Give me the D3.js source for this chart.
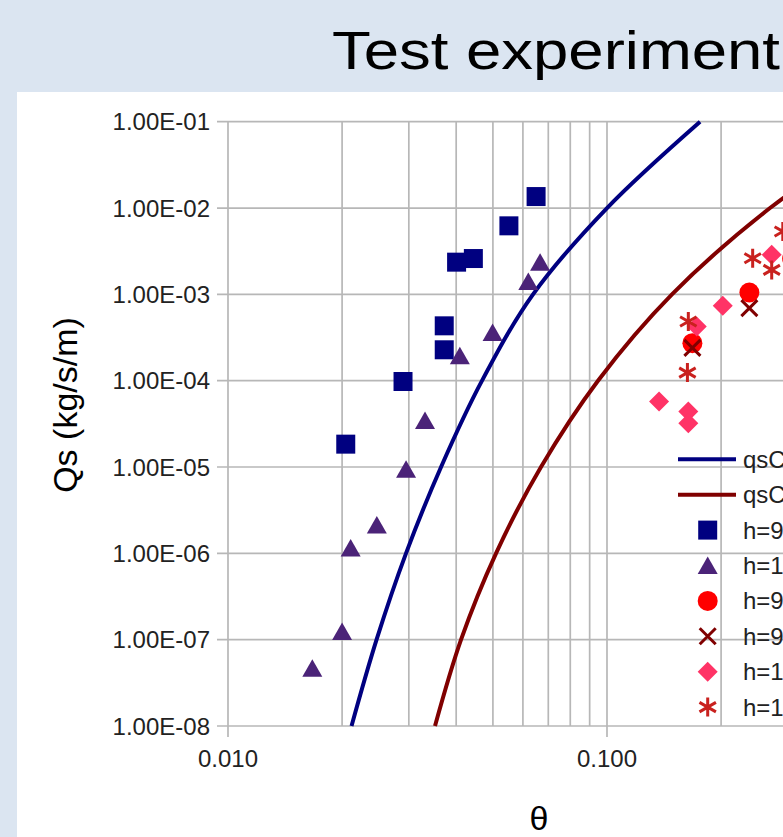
<!DOCTYPE html>
<html>
<head>
<meta charset="utf-8">
<script src="https://cdn.jsdelivr.net/npm/d3@7"></script>
<style>
  html, body { margin: 0; padding: 0; background: #dbe5f1; overflow: hidden; }
  svg { display: block; font-family: "Liberation Sans", Arial, sans-serif; }
</style>
</head>
<body>
<svg id="chart" width="783" height="837"></svg>
<script>
// theta values / sediment flux Qs (kg/s/m)
const curveBlue = [
  [0.02118, 1e-8], [0.02466, 1e-7], [0.02949, 1e-6], [0.03649, 1e-5],
  [0.0468, 1e-4], [0.0638, 1e-3], [0.1, 1e-2], [0.176, 1e-1]
];
const curveRed = [
  [0.03517, 1e-8], [0.0412, 1e-7], [0.05096, 1e-6], [0.06696, 1e-5],
  [0.09468, 1e-4], [0.1484, 1e-3], [0.2692, 1e-2], [0.5754, 1e-1]
];
const squares = [
  [0.065, 0.01358], [0.0551, 0.00622], [0.0444, 0.0026], [0.0401, 0.00236],
  [0.0372, 4.32e-4], [0.0372, 2.28e-4], [0.02896, 9.78e-5], [0.02045, 1.84e-5]
];
const triangles = [
  [0.0666, 2.36e-3], [0.062, 1.41e-3], [0.0499, 3.61e-4], [0.0409, 1.94e-4],
  [0.0331, 3.45e-5], [0.0295, 9.4e-6], [0.0247, 2.13e-6], [0.02107, 1.15e-6],
  [0.02, 1.24e-7], [0.01669, 4.66e-8]
];
const circles = [[0.2375, 1.05e-3], [0.168, 2.72e-4], [0.308, 2.6e-3]];
const crosses = [[0.2375, 6.92e-4], [0.168, 2.4e-4]];
const diamonds = [
  [0.202, 7.36e-4], [0.1725, 4.24e-4], [0.1372, 5.73e-5], [0.1639, 4.39e-5],
  [0.1639, 3.22e-5], [0.272, 2.87e-3]
];
const stars = [
  [0.1639, 4.84e-4], [0.163, 1.24e-4], [0.2423, 2.62e-3], [0.272, 1.92e-3], [0.291, 5.35e-3]
];

const yTickValues = [1e-8, 1e-7, 1e-6, 1e-5, 1e-4, 1e-3, 1e-2, 1e-1];
const yTickLabels = ["1.00E-08", "1.00E-07", "1.00E-06", "1.00E-05", "1.00E-04", "1.00E-03", "1.00E-02", "1.00E-01"];
const xTickValues = [0.01, 0.1, 1];
const xTickLabels = ["0.010", "0.100", "1.000"];
const legendLabels = ["qsCalc 1", "qsCalc 2", "h=9 cm", "h=12 cm", "h=9 cm", "h=9 cm", "h=12 cm", "h=12 cm"];

const svg = d3.select("#chart");
const grid = "#b7b7b7";

// white plot panel
svg.append("rect").attr("x", 17).attr("y", 92).attr("width", 783 - 17).attr("height", 837 - 92).attr("fill", "#fff");

// title (cut by right edge in the source)
svg.append("text")
  .attr("x", 332).attr("y", 69)
  .attr("font-size", 54)
  .attr("textLength", 448).attr("lengthAdjust", "spacingAndGlyphs")
  .text("Test experiment");

const x = d3.scaleLog().domain([0.01, 1]).range([228, 986]);
const y = d3.scaleLog().domain([1e-8, 1e-1]).range([726, 121.7]);

// grid
const g = svg.append("g");
g.selectAll("line.xg").data(x.ticks()).enter().append("line")
  .attr("x1", d => x(d)).attr("x2", d => x(d))
  .attr("y1", y(1e-1)).attr("y2", y(1e-8))
  .attr("stroke", grid).attr("stroke-width", 1.7);
g.selectAll("line.yg").data(yTickValues).enter().append("line")
  .attr("x1", 217).attr("x2", x(1))
  .attr("y1", d => y(d)).attr("y2", d => y(d))
  .attr("stroke", grid).attr("stroke-width", 1.7);
g.selectAll("line.xt").data(xTickValues).enter().append("line")
  .attr("x1", d => x(d)).attr("x2", d => x(d))
  .attr("y1", 726).attr("y2", 737)
  .attr("stroke", grid).attr("stroke-width", 1.7);

// tick labels
svg.selectAll("text.yl").data(yTickValues).enter().append("text")
  .attr("x", 210).attr("y", d => y(d) + 8.5)
  .attr("text-anchor", "end").attr("font-size", 24).attr("fill", "#222")
  .text((d, i) => yTickLabels[i]);
svg.selectAll("text.xl").data(xTickValues).enter().append("text")
  .attr("x", d => x(d)).attr("y", 767)
  .attr("text-anchor", "middle").attr("font-size", 24).attr("fill", "#222")
  .text((d, i) => xTickLabels[i]);

// axis titles
svg.append("text")
  .attr("transform", "translate(77,405) rotate(-90)")
  .attr("text-anchor", "middle").attr("font-size", 34)
  .text("Qs (kg/s/m)");
svg.append("text")
  .attr("x", 539).attr("y", 830)
  .attr("text-anchor", "middle").attr("font-size", 34)
  .text("θ");

// marker shapes
const tri = { draw(c) { c.moveTo(0, -9); c.lineTo(10, 8.5); c.lineTo(-10, 8.5); c.closePath(); } };
const dia = { draw(c) { c.moveTo(0, -10); c.lineTo(10, 0); c.lineTo(0, 10); c.lineTo(-10, 0); c.closePath(); } };
const sq = { draw(c) { c.rect(-9.5, -9.5, 19, 19); } };
const circ = { draw(c) { c.moveTo(10, 0); c.arc(0, 0, 10, 0, 2 * Math.PI); } };
const cross = { draw(c) { c.moveTo(-8, -8); c.lineTo(8, 8); c.moveTo(-8, 8); c.lineTo(8, -8); } };
const star = { draw(c) {
  const r = 9.5, u = r * Math.sqrt(3) / 2, t = r / 2;
  c.moveTo(0, -r); c.lineTo(0, r); c.moveTo(-u, -t); c.lineTo(u, t); c.moveTo(-u, t); c.lineTo(u, -t);
} };

const series = [
  { data: squares, shape: sq, fill: "#000080" },
  { data: triangles, shape: tri, fill: "#4b2378" },
  { data: circles, shape: circ, fill: "#ff0000" },
  { data: crosses, shape: cross, stroke: "#800000" },
  { data: diamonds, shape: dia, fill: "#ff3366" },
  { data: stars, shape: star, stroke: "#c9211e" }
];

const line = d3.line().x(d => x(d[0])).y(d => y(d[1])).curve(d3.curveCatmullRom.alpha(0.5));
const plot = svg.append("g");
plot.append("path").datum(curveBlue).attr("d", line)
  .attr("fill", "none").attr("stroke", "#000080").attr("stroke-width", 4);
plot.append("path").datum(curveRed).attr("d", line)
  .attr("fill", "none").attr("stroke", "#800000").attr("stroke-width", 4);

series.forEach(s => {
  plot.selectAll(null).data(s.data).enter().append("path")
    .attr("transform", d => `translate(${x(d[0])},${y(d[1])})`)
    .attr("d", d3.symbol().type(s.shape)())
    .attr("fill", s.fill || "none")
    .attr("stroke", s.stroke || "none")
    .attr("stroke-width", s.stroke ? 3 : 0);
});

// legend (no background, grid shows through)
const leg = svg.append("g");
const rowY = i => 459.3 + i * 35.4;
leg.append("line").attr("x1", 678).attr("x2", 736).attr("y1", rowY(0)).attr("y2", rowY(0))
  .attr("stroke", "#000080").attr("stroke-width", 4);
leg.append("line").attr("x1", 678).attr("x2", 736).attr("y1", rowY(1)).attr("y2", rowY(1))
  .attr("stroke", "#800000").attr("stroke-width", 4);
series.forEach((s, i) => {
  leg.append("path")
    .attr("transform", `translate(707.7,${rowY(i + 2)})`)
    .attr("d", d3.symbol().type(s.shape)())
    .attr("fill", s.fill || "none")
    .attr("stroke", s.stroke || "none")
    .attr("stroke-width", s.stroke ? 3 : 0);
});
leg.selectAll("text").data(legendLabels).enter().append("text")
  .attr("x", 743).attr("y", (d, i) => rowY(i) + 8.5)
  .attr("font-size", 24).attr("fill", "#222")
  .text(d => d);
</script>
</body>
</html>
